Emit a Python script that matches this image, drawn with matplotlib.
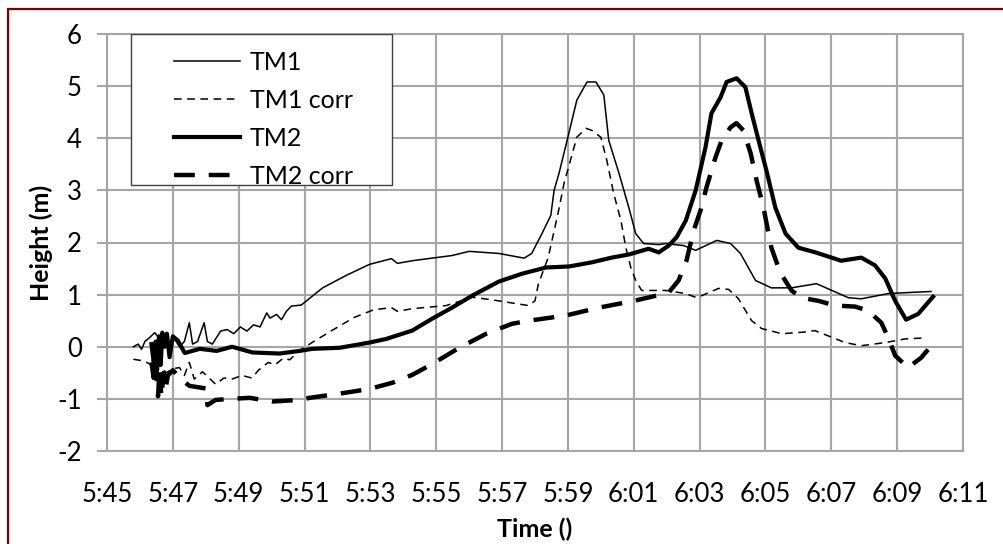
import matplotlib.pyplot as plt
import matplotlib.patches as mpatches
from matplotlib.ticker import FuncFormatter, MultipleLocator

plt.rcParams['font.family'] = ['Lato', 'DejaVu Sans']
plt.rcParams['lines.scale_dashes'] = False
plt.rcParams['axes.unicode_minus'] = False

# time in minutes after 5:45
t0 = 5 * 60 + 45

tm1_t = [0.8, 0.95, 1.05, 1.15, 1.3, 1.45, 1.6, 1.75, 1.9, 2.05, 2.2, 2.35, 2.5, 2.6, 2.75,
         2.95, 3.05, 3.2, 3.45, 3.65, 3.85, 4.05, 4.25, 4.45, 4.65, 4.85, 4.95, 5.15, 5.3, 5.45,
         5.6, 5.9, 6.55, 7.27, 7.97, 8.64, 8.82, 9.27, 10.48, 11.0, 11.9, 12.67, 12.9, 13.21, 13.48,
         13.58, 13.73, 14.03, 14.27, 14.58, 14.85, 15.09, 15.24, 15.55, 15.85, 16.06, 16.3, 16.76, 16.97, 17.52,
         17.88, 18.52, 18.94, 19.24, 19.7, 20.18, 20.79, 21.55, 22.52, 22.91, 23.73, 24.33, 25.03]
tm1_h = [0.0, 0.05, -0.05, 0.1, 0.18, 0.27, 0.15, 0.2, 0.05, 0.15, 0.0, 0.1, 0.46, 0.05, 0.1,
         0.46, 0.1, 0.05, 0.3, 0.33, 0.25, 0.38, 0.3, 0.42, 0.38, 0.65, 0.55, 0.62, 0.52, 0.68,
         0.78, 0.8, 1.13, 1.37, 1.58, 1.69, 1.6, 1.65, 1.75, 1.83, 1.79, 1.7, 1.79, 2.17, 2.52,
         3.0, 3.33, 4.1, 4.73, 5.08, 5.08, 4.83, 3.96, 3.33, 2.67, 2.17, 1.98, 1.96, 1.98, 1.94,
         1.85, 2.04, 1.98, 1.79, 1.27, 1.13, 1.13, 1.21, 0.94, 0.92, 1.02, 1.04, 1.06]

tm1c_t = [0.8, 1.1, 1.3, 1.45, 1.6, 1.8, 2.0, 2.2, 2.35, 2.5, 2.65, 2.9, 3.1, 3.3, 3.55,
          3.8, 4.1, 4.4, 4.6, 4.9, 5.1, 5.35, 5.55, 5.85, 6.2, 6.8, 7.5, 8.1, 8.64, 8.82,
          9.27, 10.3, 11.1, 11.7, 12.8, 13.0, 13.1, 13.4, 13.7, 13.88, 14.1, 14.27, 14.55, 14.73, 15.0,
          15.18, 15.39, 15.61, 15.76, 15.91, 16.06, 16.24, 16.97, 17.58, 17.91, 18.58, 18.88, 19.18, 19.58, 19.88,
          20.5, 21.15, 21.5, 22.42, 22.91, 23.64, 24.24, 24.85]
tm1c_h = [-0.24, -0.27, -0.33, -0.45, -0.35, -0.5, -0.42, -0.4, -0.55, -0.3, -0.62, -0.48, -0.6, -0.72, -0.6,
          -0.62, -0.55, -0.6, -0.45, -0.3, -0.35, -0.22, -0.25, -0.07, 0.07, 0.3, 0.56, 0.71, 0.75, 0.68,
          0.73, 0.79, 0.95, 0.9, 0.79, 0.88, 1.2, 1.71, 2.56, 3.13, 3.63, 4.02, 4.19, 4.15, 4.02,
          3.58, 2.94, 2.42, 1.9, 1.52, 1.27, 1.08, 1.08, 1.02, 0.94, 1.12, 1.1, 0.92, 0.5, 0.35,
          0.25, 0.28, 0.31, 0.08, 0.02, 0.08, 0.15, 0.17]

tm2_t = [1.35, 1.42, 1.48, 1.52, 1.58, 1.63, 1.68, 1.75, 1.82, 1.9, 2.0, 2.15, 2.36, 2.82, 3.33,
         3.8, 4.42, 5.24, 5.85, 6.24, 7.06, 7.97, 8.48, 9.27, 9.88, 10.48, 11.09, 11.9, 12.6, 13.33,
         14.03, 14.73, 15.33, 15.85, 16.45, 16.76, 17.06, 17.3, 17.58, 17.88, 18.18, 18.36, 18.64, 18.82, 19.12,
         19.39, 19.58, 19.79, 20.03, 20.3, 20.61, 21.0, 21.52, 21.91, 22.3, 22.91, 23.33, 23.64, 23.94, 24.27,
         24.64, 25.09]
tm2_h = [0.05, -0.3, 0.1, -0.45, 0.2, -0.35, 0.27, 0.0, 0.25, -0.2, 0.2, 0.12, -0.12, -0.04, -0.08,
         0.0, -0.11, -0.13, -0.08, -0.04, -0.02, 0.08, 0.15, 0.31, 0.54, 0.75, 0.98, 1.25, 1.4, 1.52,
         1.54, 1.62, 1.71, 1.77, 1.88, 1.81, 1.94, 2.1, 2.42, 3.0, 3.83, 4.48, 4.79, 5.08, 5.15,
         4.98, 4.48, 3.96, 3.38, 2.67, 2.17, 1.9, 1.81, 1.73, 1.65, 1.71, 1.56, 1.31, 0.88, 0.52,
         0.63, 0.96]

tm2c_t = [1.35, 1.42, 1.48, 1.55, 1.6, 1.65, 1.72, 1.78, 1.85, 2.0, 2.25, 2.5, 2.8, 3.0, 3.05,
          3.3, 3.75, 4.33, 5.03, 5.85, 6.15, 7.06, 7.97, 8.67, 9.27, 9.88, 10.7, 11.52, 12.3, 12.82,
          13.94, 14.94, 16.0, 16.55, 17.06, 17.36, 17.6, 17.82, 18.03, 18.21, 18.48, 18.67, 18.94, 19.12, 19.33,
          19.55, 19.73, 19.94, 20.18, 20.45, 20.79, 21.09, 21.61, 22.12, 22.73, 23.12, 23.52, 23.73, 23.94, 24.33,
          24.73, 25.09]
tm2c_h = [-0.3, -0.6, -0.25, -0.95, -0.4, -0.97, -0.5, -0.8, -0.55, -0.45, -0.62, -0.75, -0.78, -0.8, -1.12,
          -1.02, -1.0, -0.98, -1.05, -1.02, -0.98, -0.9, -0.81, -0.69, -0.54, -0.33, -0.02, 0.25, 0.44, 0.5,
          0.6, 0.75, 0.88, 0.96, 1.04, 1.27, 1.65, 2.23, 2.62, 3.06, 3.63, 3.96, 4.21, 4.29, 4.15,
          3.71, 3.19, 2.67, 1.9, 1.42, 1.08, 0.94, 0.88, 0.79, 0.77, 0.69, 0.46, 0.17, -0.17, -0.4,
          -0.21, 0.06]

fig = plt.figure(figsize=(10.04, 5.44), dpi=100)
ax = fig.add_axes([107 / 1004, 1 - 451 / 544, 856 / 1004, 417 / 544])

ax.plot([t0 + t for t in tm1_t], tm1_h, color='black', lw=1.1, label='TM1')
ax.plot([t0 + t for t in tm1c_t], tm1c_h, color='black', lw=1.1, dashes=(5.5, 4.0), label='TM1 corr')
ax.plot([t0 + t for t in tm2_t], tm2_h, color='black', lw=3.0, label='TM2')
ax.plot([t0 + t for t in tm2c_t], tm2c_h, color='black', lw=3.2, dashes=(15, 10), label='TM2 corr')

ax.set_xlim(t0, t0 + 26)
ax.set_ylim(-2, 6)
ax.set_xticks(range(t0, t0 + 27, 2))
ax.yaxis.set_major_locator(MultipleLocator(1))
ax.xaxis.set_major_formatter(FuncFormatter(lambda v, p: f'{int(round(v)) // 60}:{int(round(v)) % 60:02d}'))

grid_c = '#A6A6A6'
ax.grid(True, color=grid_c, lw=1.5)
ax.set_axisbelow(True)
for s in ax.spines.values():
    s.set_color(grid_c)
    s.set_linewidth(1.5)
ax.tick_params(axis='y', length=7, width=1.5, color=grid_c, pad=11, labelsize=18.5)
ax.tick_params(axis='x', length=0, pad=22, labelsize=18.5)
ax.set_ylabel('Height (m)', fontsize=18, fontweight='bold', labelpad=3)
ax.set_xlabel('Time ()', fontsize=18, fontweight='bold', labelpad=8)

# legend frame drawn separately so the padding matches
box = mpatches.Rectangle((24 / 856, 1 - 151 / 417), 261 / 856, 151 / 417, transform=ax.transAxes,
                         facecolor='white', edgecolor='#404040', lw=1.0, zorder=4)
ax.add_patch(box)
ax.legend(loc='upper left', bbox_to_anchor=(67 / 856, 1 - 17 / 417), frameon=False, fontsize=18,
          handlelength=2.64, handletextpad=0.4, labelspacing=0.6, borderpad=0, borderaxespad=0)

# dark red border around the chart area
fig.add_artist(mpatches.Rectangle((8.5 / 1004, -0.5), 2, 1.5 - 8.5 / 544, transform=fig.transFigure,
                                  facecolor='none', edgecolor='#7F0000', lw=1.6))

fig.savefig('out.png', dpi=100)
